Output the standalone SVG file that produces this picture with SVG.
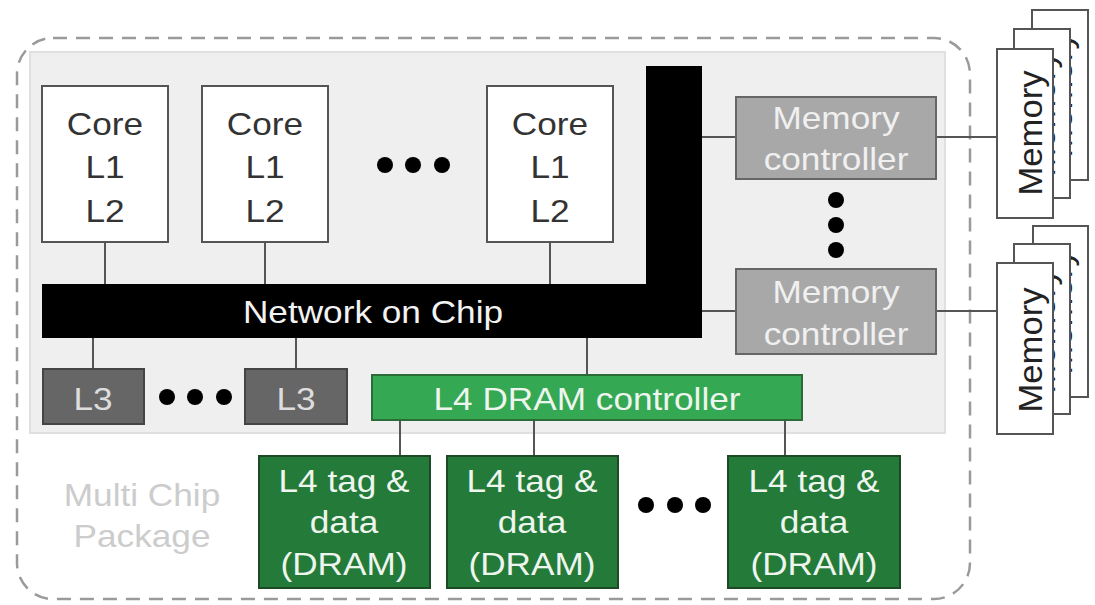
<svg xmlns="http://www.w3.org/2000/svg" width="1095" height="605" viewBox="0 0 1095 605">
  <style>
    text { font-family: "Liberation Sans", Arial, sans-serif; font-size: 32px; text-anchor: middle; }
    .core { fill: #ffffff; stroke: #555555; stroke-width: 2; }
    .core-t { fill: #333333; }
    .mc { fill: #a8a8a8; stroke: #666666; stroke-width: 2; }
    .mc-t { fill: #f0f0f0; }
    .l3 { fill: #666666; stroke: #444444; stroke-width: 2; }
    .l3-t { fill: #dddddd; }
    .l4c { fill: #34a853; stroke: #2b6b38; stroke-width: 2; }
    .dram { fill: #247a38; stroke: #1b4a25; stroke-width: 2; }
    .light-t { fill: #eef5ee; }
    .mem { fill: #ffffff; stroke: #555555; stroke-width: 2; }
    .mem-t { fill: #222222; font-size: 33px; }
    .wire { stroke: #555555; stroke-width: 2; fill: none; }
    .dot { fill: #000000; }
  </style>

  <!-- package outline and die -->
  <rect id="package" x="17" y="38" width="953" height="561" rx="36" fill="#ffffff" stroke="#9a9a9a" stroke-width="2.5" stroke-dasharray="14 9"/>
  <rect id="die" x="30" y="52" width="915" height="381" fill="#efefef" stroke="#e0e0e0" stroke-width="2"/>
  <g id="package-label" fill="#cccccc">
    <text transform="translate(142,506) scale(1.1,1)">Multi Chip</text>
    <text transform="translate(142,547) scale(1.1,1)">Package</text>
  </g>

  <!-- connectors -->
  <g id="connectors" class="wire">
    <line x1="105" y1="242" x2="105" y2="284"/>
    <line x1="265" y1="242" x2="265" y2="284"/>
    <line x1="550" y1="242" x2="550" y2="284"/>
    <line x1="93" y1="338" x2="93" y2="369"/>
    <line x1="296" y1="338" x2="296" y2="369"/>
    <line x1="587" y1="338" x2="587" y2="375"/>
    <line x1="702" y1="137" x2="736" y2="137"/>
    <line x1="702" y1="311" x2="736" y2="311"/>
    <line x1="936" y1="137" x2="997" y2="137"/>
    <line x1="936" y1="311" x2="997" y2="311"/>
    <line x1="400" y1="420" x2="400" y2="456"/>
    <line x1="534" y1="420" x2="534" y2="456"/>
    <line x1="785" y1="420" x2="785" y2="456"/>
  </g>

  <!-- cores -->
  <g id="core-1">
    <rect class="core" x="42" y="86" width="126" height="156"/>
    <text class="core-t" transform="translate(105,135) scale(1.1,1)">Core</text>
    <text class="core-t" transform="translate(105,178) scale(1.1,1)">L1</text>
    <text class="core-t" transform="translate(105,222) scale(1.1,1)">L2</text>
  </g>
  <g id="core-2">
    <rect class="core" x="202" y="86" width="126" height="156"/>
    <text class="core-t" transform="translate(265,135) scale(1.1,1)">Core</text>
    <text class="core-t" transform="translate(265,178) scale(1.1,1)">L1</text>
    <text class="core-t" transform="translate(265,222) scale(1.1,1)">L2</text>
  </g>
  <g id="core-n">
    <rect class="core" x="487" y="86" width="126" height="156"/>
    <text class="core-t" transform="translate(550,135) scale(1.1,1)">Core</text>
    <text class="core-t" transform="translate(550,178) scale(1.1,1)">L1</text>
    <text class="core-t" transform="translate(550,222) scale(1.1,1)">L2</text>
  </g>
  <g id="core-ellipsis" class="dot">
    <circle cx="385" cy="165" r="8"/>
    <circle cx="413" cy="165" r="8"/>
    <circle cx="442" cy="165" r="8"/>
  </g>

  <!-- network on chip -->
  <g id="noc">
    <path d="M42,284 H646 V66 H702 V338 H42 Z" fill="#000000"/>
    <text fill="#f2f2f2" transform="translate(373,323) scale(1.1,1)">Network on Chip</text>
  </g>

  <!-- memory controllers -->
  <g id="mc-1">
    <rect class="mc" x="736" y="97" width="200" height="82"/>
    <text class="mc-t" transform="translate(836,129) scale(1.1,1)">Memory</text>
    <text class="mc-t" transform="translate(836,170) scale(1.1,1)">controller</text>
  </g>
  <g id="mc-ellipsis" class="dot">
    <circle cx="836" cy="200" r="8"/>
    <circle cx="836" cy="225" r="8"/>
    <circle cx="836" cy="250" r="8"/>
  </g>
  <g id="mc-n">
    <rect class="mc" x="736" y="269" width="200" height="85"/>
    <text class="mc-t" transform="translate(836,303) scale(1.1,1)">Memory</text>
    <text class="mc-t" transform="translate(836,345) scale(1.1,1)">controller</text>
  </g>

  <!-- off-package memory stacks (rear labels mostly hidden behind the front card) -->
  <g id="memory-1">
    <rect class="mem" x="1032" y="10" width="56" height="170"/>
    <text class="mem-t" transform="translate(1072,95) rotate(-90) scale(1.05,1)">Memory</text>
    <rect class="mem" x="1014" y="29" width="56" height="169"/>
    <text class="mem-t" transform="translate(1055,114) rotate(-90) scale(1.05,1)">Memory</text>
    <rect class="mem" x="997" y="49" width="56" height="169"/>
    <text class="mem-t" transform="translate(1042,133) rotate(-90) scale(1.05,1)">Memory</text>
  </g>
  <g id="memory-n">
    <rect class="mem" x="1033" y="226" width="55" height="171"/>
    <text class="mem-t" transform="translate(1072,312) rotate(-90) scale(1.05,1)">Memory</text>
    <rect class="mem" x="1014" y="244" width="56" height="170"/>
    <text class="mem-t" transform="translate(1055,331) rotate(-90) scale(1.05,1)">Memory</text>
    <rect class="mem" x="997" y="263" width="56" height="171"/>
    <text class="mem-t" transform="translate(1042,350) rotate(-90) scale(1.05,1)">Memory</text>
  </g>

  <!-- L3 slices -->
  <g id="l3-1">
    <rect class="l3" x="43" y="369" width="101" height="55"/>
    <text class="l3-t" transform="translate(93,410) scale(1.1,1)">L3</text>
  </g>
  <g id="l3-ellipsis" class="dot">
    <circle cx="167" cy="397" r="8"/>
    <circle cx="195" cy="397" r="8"/>
    <circle cx="224" cy="397" r="8"/>
  </g>
  <g id="l3-n">
    <rect class="l3" x="245" y="369" width="102" height="55"/>
    <text class="l3-t" transform="translate(296,410) scale(1.1,1)">L3</text>
  </g>

  <!-- L4 DRAM controller -->
  <g id="l4-controller">
    <rect class="l4c" x="372" y="375" width="430" height="45"/>
    <text class="light-t" transform="translate(587,410) scale(1.1,1)">L4 DRAM controller</text>
  </g>

  <!-- L4 tag and data DRAM dies -->
  <g id="dram-1">
    <rect class="dram" x="259" y="456" width="171" height="132"/>
    <text class="light-t" transform="translate(344,492) scale(1.1,1)">L4 tag &amp;</text>
    <text class="light-t" transform="translate(344,533) scale(1.1,1)">data</text>
    <text class="light-t" transform="translate(344,575) scale(1.1,1)">(DRAM)</text>
  </g>
  <g id="dram-2">
    <rect class="dram" x="447" y="456" width="171" height="132"/>
    <text class="light-t" transform="translate(532,492) scale(1.1,1)">L4 tag &amp;</text>
    <text class="light-t" transform="translate(532,533) scale(1.1,1)">data</text>
    <text class="light-t" transform="translate(532,575) scale(1.1,1)">(DRAM)</text>
  </g>
  <g id="dram-ellipsis" class="dot">
    <circle cx="646" cy="505" r="8"/>
    <circle cx="675" cy="505" r="8"/>
    <circle cx="703" cy="505" r="8"/>
  </g>
  <g id="dram-n">
    <rect class="dram" x="728" y="456" width="172" height="132"/>
    <text class="light-t" transform="translate(814,492) scale(1.1,1)">L4 tag &amp;</text>
    <text class="light-t" transform="translate(814,533) scale(1.1,1)">data</text>
    <text class="light-t" transform="translate(814,575) scale(1.1,1)">(DRAM)</text>
  </g>
</svg>
